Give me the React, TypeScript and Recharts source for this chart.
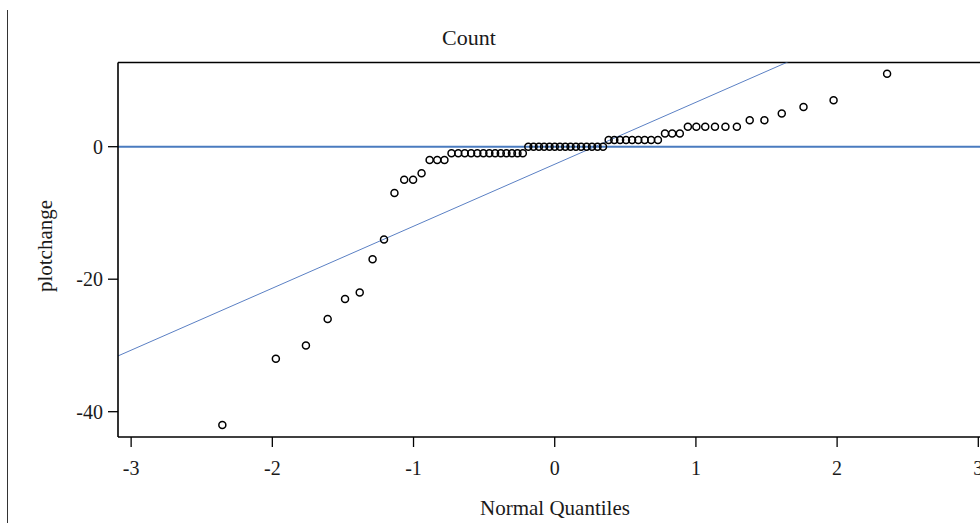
import React from 'react';
import { ScatterChart, Scatter, XAxis, YAxis, ReferenceLine } from 'recharts';

// Normal quantiles (x positions of the ranked observations)
const quantiles = [
  -2.354, -1.975, -1.762, -1.608, -1.485, -1.381, -1.29, -1.209, -1.135, -1.066,
  -1.003, -0.943, -0.886, -0.832, -0.781, -0.731, -0.683, -0.637, -0.592, -0.548,
  -0.505, -0.463, -0.422, -0.382, -0.342, -0.303, -0.264, -0.226, -0.187, -0.15,
  -0.112, -0.075, -0.037, 0, 0.037, 0.075, 0.112, 0.15, 0.187, 0.226,
  0.264, 0.303, 0.342, 0.382, 0.422, 0.463, 0.505, 0.548, 0.592, 0.637,
  0.683, 0.731, 0.781, 0.832, 0.886, 0.943, 1.003, 1.066, 1.135, 1.209,
  1.29, 1.381, 1.485, 1.608, 1.762, 1.975, 2.354,
];

// Sorted plotchange values
const plotchange = [
  -42, -32, -30, -26, -23, -22, -17, -14, -7, -5,
  -5, -4, -2, -2, -2, -1, -1, -1, -1, -1,
  -1, -1, -1, -1, -1, -1, -1, -1, 0, 0,
  0, 0, 0, 0, 0, 0, 0, 0, 0, 0,
  0, 0, 0, 1, 1, 1, 1, 1, 1, 1,
  1, 1, 2, 2, 2, 3, 3, 3, 3, 3,
  3, 4, 4, 5, 6, 7, 11,
];

const xTicks = [-3, -2, -1, 0, 1, 2, 3];
const yTicks = [-40, -20, 0];
const xDomain = [-3.093, 3.012];
const yDomain = [-43.82, 12.71];

// Normal reference line endpoints (quantile, value)
const fitLineQ = [-3.1, 3.1];
const fitLineV = [-31.65, 26.35];

const chartTitle = 'Count';
const xLabel = 'Normal Quantiles';
const yLabel = 'plotchange';

const data = quantiles.map((q, i) => ({ q, v: plotchange[i] }));

const FONT = '"Liberation Serif", "Times New Roman", serif';
const INK = '#1a1a1a';

const Ring = (p: any) => (
  <circle cx={p.cx} cy={p.cy} r={3.5} fill="none" stroke="#000" strokeWidth={1.5} />
);

export default function App() {
  return (
    <div style={{ position: 'fixed', left: 0, top: 0, width: 980, height: 523, overflow: 'hidden', background: '#fff' }}>
      <div style={{ position: 'absolute', left: 7, top: 10, width: 1, height: 513, background: '#333' }} />
      <ScatterChart width={980} height={523} margin={{ top: 62.5, right: 0, bottom: 0, left: 0 }}>
        <XAxis
          type="number"
          dataKey="q"
          domain={xDomain}
          ticks={xTicks}
          allowDataOverflow
          interval={0}
          height={86}
          tickSize={10}
          tickMargin={14}
          axisLine={{ stroke: '#000', strokeWidth: 1.6 }}
          tickLine={{ stroke: '#000', strokeWidth: 1.3 }}
          tick={{ fill: INK, fontSize: 20, fontFamily: FONT }}
        />
        <YAxis
          type="number"
          dataKey="v"
          domain={yDomain}
          ticks={yTicks}
          allowDataOverflow
          interval={0}
          width={118}
          tickSize={10}
          tickMargin={5}
          axisLine={{ stroke: '#000', strokeWidth: 1.6 }}
          tickLine={{ stroke: '#000', strokeWidth: 1.3 }}
          tick={{ fill: INK, fontSize: 20, fontFamily: FONT }}
        />
        <ReferenceLine y={yDomain[1]} stroke="#000" strokeWidth={1.6} ifOverflow="visible" />
        <ReferenceLine y={0} stroke="#4a7bbf" strokeWidth={2} />
        <ReferenceLine
          segment={[
            { x: fitLineQ[0], y: fitLineV[0] },
            { x: fitLineQ[1], y: fitLineV[1] },
          ]}
          stroke="#5b80c4"
          strokeWidth={1}
          ifOverflow="hidden"
        />
        <Scatter data={data} shape={Ring} isAnimationActive={false} />
        <text x={469} y={45} textAnchor="middle" fontSize={22} fontFamily={FONT} fill={INK}>
          {chartTitle}
        </text>
        <text x={555} y={515} textAnchor="middle" fontSize={21} fontFamily={FONT} fill={INK}>
          {xLabel}
        </text>
        <text
          x={52}
          y={246}
          textAnchor="middle"
          fontSize={21}
          fontFamily={FONT}
          fill={INK}
          transform="rotate(-90 52 246)"
        >
          {yLabel}
        </text>
      </ScatterChart>
    </div>
  );
}
